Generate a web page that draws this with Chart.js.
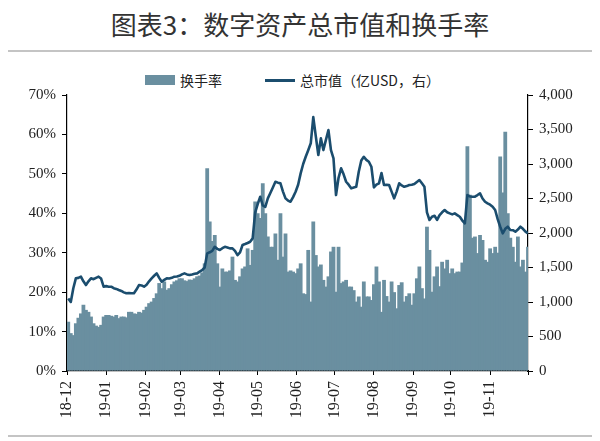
<!DOCTYPE html>
<html>
<head>
<meta charset="utf-8">
<script src="https://cdn.jsdelivr.net/npm/chart.js@4.4.1/dist/chart.umd.min.js"></script>
<style>
html, body { margin: 0; padding: 0; background: #fff; }
#wrap { position: relative; width: 600px; height: 441px; overflow: hidden; }
#title { position: absolute; top: 6px; left: 0; width: 600px; text-align: center; font: 26px 'Noto Sans CJK SC'; color: #333; line-height: 36px; }
.rule { position: absolute; left: 8px; width: 584px; height: 2px; background: #c4c4c4; }
.lg { position: absolute; font: 14px 'Noto Sans CJK SC'; color: #222; line-height: 18px; }
.sw { position: absolute; }
canvas { position: absolute; left: 0; top: 0; }
</style>
</head>
<body>
<div id="wrap">
  <div id="title">图表3：数字资产总市值和换手率</div>
  <div class="rule" style="top:50px"></div>
  <div class="rule" style="top:435px"></div>
  <div class="sw" style="left:145px;top:75px;width:30px;height:10px;background:#6a8fa0"></div>
  <div class="lg" style="left:180px;top:71px">换手率</div>
  <div class="sw" style="left:265px;top:79px;width:30px;height:3px;background:#1b4d6e"></div>
  <div class="lg" style="left:300px;top:71px">总市值（亿USD，右）</div>
  <canvas id="c" width="600" height="441"></canvas>
</div>
<script>
// 2-day bins starting 2018-12-01
const turnover = [
  12.5, 9.6, 9.1, 12.1, 13.5, 14.6, 16.8, 15.5, 15.0, 13.8, 12.1, 11.5, 11.2, 11.7, 13.8,
  14.2, 14.2, 14.0, 13.8, 14.2, 13.4, 13.8, 13.8, 13.6, 15.0, 15.0, 14.6, 14.5, 15.0, 14.8,
  15.5, 16.3, 17.2, 17.6, 18.5, 19.7, 22.3, 21.0, 22.7, 20.6, 21.0, 22.0, 22.7, 23.0, 23.5,
  23.5, 23.0, 22.8, 23.2, 23.1, 23.5, 24.0, 24.2, 25.0, 27.3, 51.4, 37.9, 33.0, 34.5, 27.3,
  21.4, 26.0, 25.2, 25.2, 25.5, 29.0, 23.1, 22.7, 24.0, 26.0, 26.5, 31.1, 26.9, 30.7, 43.0,
  40.0, 38.8, 47.6, 40.0, 34.1, 31.5, 31.5, 34.9, 28.2, 40.0, 29.0, 34.9, 25.2, 25.5, 25.2,
  24.8, 26.0, 27.3, 19.7, 19.5, 30.7, 17.6, 37.9, 29.4, 26.5, 27.0, 23.1, 21.4, 24.0, 30.3,
  31.5, 20.1, 31.5, 22.3, 22.7, 23.1, 21.4, 21.4, 20.5, 17.6, 18.9, 16.3, 22.7, 18.9, 18.9,
  18.0, 22.0, 26.5, 22.7, 15.0, 23.1, 19.0, 17.6, 22.7, 20.0, 15.9, 21.8, 22.5, 17.6, 19.0,
  19.7, 16.8, 19.7, 23.5, 26.5, 21.0, 18.4, 36.6, 30.7, 20.1, 24.0, 26.5, 21.5, 27.7, 26.0,
  28.2, 24.8, 26.0, 24.8, 25.2, 25.2, 27.5, 37.5, 57.0, 44.7, 33.8, 34.1, 29.9, 34.5, 33.2,
  28.2, 27.7, 31.1, 29.9, 31.5, 30.0, 54.4, 45.3, 60.7, 40.0, 33.8, 31.5, 27.7, 34.1, 26.5,
  28.2, 25.2, 31.5
];

const marketCap = [
  1050, 1000, 1200, 1343, 1350, 1367, 1300, 1246, 1300, 1343, 1330, 1350, 1367, 1340, 1222,
  1230, 1222, 1222, 1200, 1190, 1174, 1160, 1140, 1126, 1130, 1126, 1126, 1180, 1246, 1240,
  1222, 1250, 1300, 1343, 1380, 1415, 1350, 1294, 1320, 1343, 1340, 1350, 1367, 1370, 1380,
  1400, 1415, 1400, 1391, 1400, 1410, 1415, 1440, 1463, 1500, 1705, 1720, 1740, 1800, 1770,
  1753, 1780, 1800, 1790, 1777, 1777, 1740, 1680, 1720, 1826, 1840, 1855, 1873, 1922, 2300,
  2420, 2525, 2400, 2380, 2502, 2580, 2660, 2743, 2730, 2720, 2600, 2502, 2470, 2453, 2520,
  2598, 2700, 2864, 3000, 3105, 3200, 3300, 3680, 3400, 3130, 3372, 3202, 3350, 3492, 3200,
  3082, 2550, 2800, 2937, 2850, 2743, 2700, 2647, 2660, 2670, 2888, 3050, 3105, 3060, 3033,
  2960, 2660, 2700, 2720, 2870, 2695, 2700, 2695, 2600, 2502, 2600, 2720, 2690, 2670, 2680,
  2695, 2700, 2710, 2740, 2768, 2720, 2670, 2300, 2188, 2236, 2250, 2190, 2260, 2300, 2333,
  2300, 2285, 2270, 2285, 2260, 2236, 2180, 2140, 2550, 2530, 2525, 2527, 2550, 2575, 2500,
  2453, 2430, 2410, 2380, 2333, 2200, 2091, 1995, 2060, 2091, 2043, 2040, 2019, 2050, 2091,
  2060, 2020, 1995
];

// month starts, in days from 2018-12-01
const monthDays = [0, 31, 62, 90, 121, 151, 182, 212, 243, 274, 304, 335, 365];
const monthLabels = ['18-12', '19-01', '19-02', '19-03', '19-04', '19-05', '19-06', '19-07', '19-08', '19-09', '19-10', '19-11', ''];
const binDays = 2;

const barColor = '#6a8fa0';
const lineColor = '#1b4d6e';
const tickFont = { family: 'Liberation Serif', size: 15 };

const ctx = document.getElementById('c').getContext('2d');
new Chart(ctx, {
    data: {
        datasets: [{
            type: 'line',
            label: '总市值（亿USD，右）',
            data: marketCap.map((v, i) => ({ x: i * binDays + 1, y: v })),
            yAxisID: 'y2',
            borderColor: lineColor,
            borderWidth: 2.6,
            borderJoinStyle: 'round',
            pointRadius: 0,
            tension: 0,
            order: 0
        }, {
            type: 'bar',
            label: '换手率',
            data: turnover.map((v, i) => ({ x: i * binDays + 1, y: v })),
            yAxisID: 'y',
            backgroundColor: barColor,
            borderWidth: 0,
            barPercentage: 1.5,
            categoryPercentage: 1,
            order: 1
        }]
    },
    options: {
        responsive: false,
        animation: false,
        layout: { padding: { top: 95, left: 0, right: 0, bottom: 0 } },
        plugins: { legend: { display: false }, tooltip: { enabled: false } },
        scales: {
            x: {
                type: 'linear',
                offset: false,
                min: 0,
                max: 365,
                afterBuildTicks: (scale) => { scale.ticks = monthDays.map(v => ({ value: v })); },
                afterFit: (scale) => { scale.height = 70; },
                grid: { offset: false, drawOnChartArea: false, drawTicks: true, tickLength: 4, color: '#000' },
                border: { display: true, color: '#000', width: 1.2 },
                ticks: {
                    autoSkip: false, minRotation: 90, maxRotation: 90, padding: 6,
                    color: '#222', font: { family: 'Liberation Serif', size: 16 },
                    callback: (v, i) => monthLabels[i]
                }
            },
            y: {
                position: 'left',
                min: 0,
                max: 70,
                afterFit: (scale) => { scale.width = 67; },
                grid: { drawOnChartArea: false, drawTicks: true, tickLength: 5, color: '#000' },
                border: { display: true, color: '#000', width: 1.2 },
                ticks: { stepSize: 10, padding: 6, color: '#222', font: tickFont, callback: v => v + '%' }
            },
            y2: {
                position: 'right',
                min: 0,
                max: 4000,
                afterFit: (scale) => { scale.width = 72; },
                grid: { drawOnChartArea: false, drawTicks: true, tickLength: 5, color: '#000' },
                border: { display: true, color: '#000', width: 1.2 },
                ticks: { stepSize: 500, padding: 6, color: '#222', font: tickFont, callback: v => v.toLocaleString('en-US') }
            }
        }
    }
});
</script>
</body>
</html>
